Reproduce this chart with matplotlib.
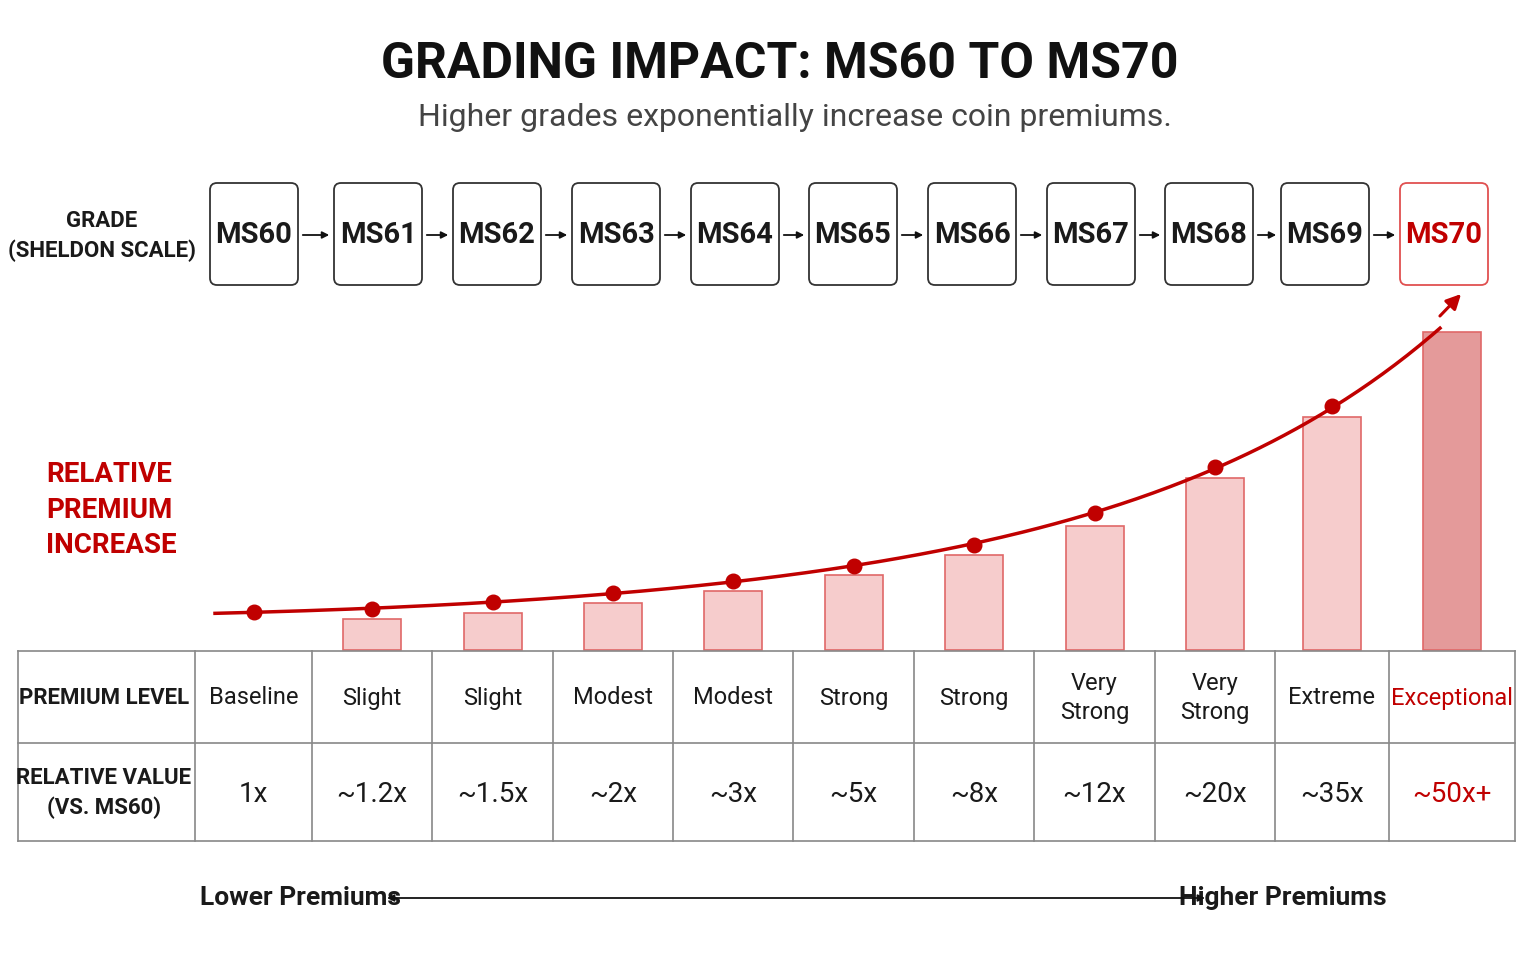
import matplotlib.pyplot as plt
from matplotlib.patches import FancyBboxPatch, Rectangle
import numpy as np

plt.rcParams['font.family'] = ['Liberation Sans Narrow', 'Roboto', 'DejaVu Sans']

grades = ["MS60", "MS61", "MS62", "MS63", "MS64", "MS65", "MS66", "MS67", "MS68", "MS69", "MS70"]
levels = ["Baseline", "Slight", "Slight", "Modest", "Modest", "Strong", "Strong",
          "Very\nStrong", "Very\nStrong", "Extreme", "Exceptional"]
values = ["1x", "~1.2x", "~1.5x", "~2x", "~3x", "~5x", "~8x", "~12x", "~20x", "~35x", "~50x+"]
# bar heights and curve heights as drawn (relative units)
bar_h = [0, 31, 37, 47, 59, 75, 95, 124, 172, 233, 318]
curve_h = [38, 41, 48, 57, 69, 84, 105, 137, 183, 244]

RED = "#c00000"
TXT = "#1a1a1a"
bounds = [18, 195, 312, 432, 553, 673, 793, 914, 1034, 1155, 1275, 1389, 1515]
centers = [(bounds[i + 1] + bounds[i + 2]) / 2 for i in range(11)]
box_centers = [254, 378, 497, 616, 735, 853, 972, 1091, 1209, 1325, 1444]
base = 650

fig = plt.figure(figsize=(15.35, 9.6), dpi=100)
ax = fig.add_axes([0, 0, 1, 1])
ax.set_xlim(0, 1535)
ax.set_ylim(960, 0)
ax.axis("off")

ax.text(780, 65, "GRADING IMPACT: MS60 TO MS70", ha="center", va="center",
        fontsize=36, fontweight="bold", color="#111111")
ax.text(795, 118, "Higher grades exponentially increase coin premiums.", ha="center",
        va="center", fontsize=23, color="#444444")

# grade boxes
ax.text(102, 236, "GRADE\n(SHELDON SCALE)", ha="center", va="center", fontsize=16,
        color=TXT, linespacing=1.45, fontweight="bold")
for i, g in enumerate(grades):
    c = box_centers[i]
    last = i == len(grades) - 1
    col = RED if last else TXT
    ax.add_patch(FancyBboxPatch((c - 44, 183), 88, 102, boxstyle="round,pad=0,rounding_size=7",
                                fc="white", ec="#e05050" if last else "#333333", lw=1.3))
    ax.text(c, 235, g, ha="center", va="center", fontsize=21, color=col, fontweight="bold")
    if i > 0:
        ax.annotate("", xy=(c - 46, 235), xytext=(box_centers[i - 1] + 46, 235),
                    arrowprops=dict(arrowstyle="-|>", color="#111111", lw=1.3))

ax.text(46, 510, "RELATIVE\nPREMIUM\nINCREASE", ha="left", va="center", fontsize=20,
        color=RED, linespacing=1.4, fontweight="bold")

# bars
for i, h in enumerate(bar_h):
    if h == 0:
        continue
    last = i == len(bar_h) - 1
    ax.add_patch(Rectangle((centers[i] - 29, base - h), 58, h,
                           fc="#e49a9a" if last else "#f6cccc", ec="#e06868", lw=1.2))

# curve
xs = np.array(centers[:10])
ys = base - np.array(curve_h)
xx = np.linspace(215, 1440, 300)
coef = np.polyfit(np.r_[xs, 1440], np.log(base - np.r_[ys, 330] + 1), 4)
yy = base - (np.exp(np.polyval(coef, xx)) - 1)
ax.plot(xx, yy, color=RED, lw=2.5)
ax.scatter(xs, ys, s=110, color=RED, zorder=5)
ax.annotate("", xy=(1463, 292), xytext=(1438, 318),
            arrowprops=dict(arrowstyle="-|>", color=RED, lw=2.2, mutation_scale=22))

# table
for y in [651, 743, 841]:
    ax.plot([18, 1515], [y, y], color="#888888", lw=1.2)
for x in bounds:
    ax.plot([x, x], [651, 841], color="#888888", lw=1.2)
ax.text(104, 698, "PREMIUM LEVEL", ha="center", va="center", fontsize=16, color=TXT,
        fontweight="bold")
ax.text(104, 793, "RELATIVE VALUE\n(VS. MS60)", ha="center", va="center", fontsize=16,
        color=TXT, linespacing=1.45, fontweight="bold")
for i in range(11):
    col = RED if i == 10 else TXT
    ax.text(centers[i], 698, levels[i], ha="center", va="center", fontsize=17, color=col,
            linespacing=1.3)
    ax.text(centers[i], 794, values[i], ha="center", va="center", fontsize=20, color=col)

# bottom axis
ax.text(200, 898, "Lower Premiums", ha="left", va="center", fontsize=19, color=TXT,
        fontweight="bold")
ax.text(1387, 898, "Higher Premiums", ha="right", va="center", fontsize=19, color=TXT,
        fontweight="bold")
ax.annotate("", xy=(387, 898), xytext=(1205, 898),
            arrowprops=dict(arrowstyle="<|-|>", color="#111111", lw=1.3, shrinkA=0, shrinkB=0))

fig.savefig("out.png", dpi=100, facecolor="white")
